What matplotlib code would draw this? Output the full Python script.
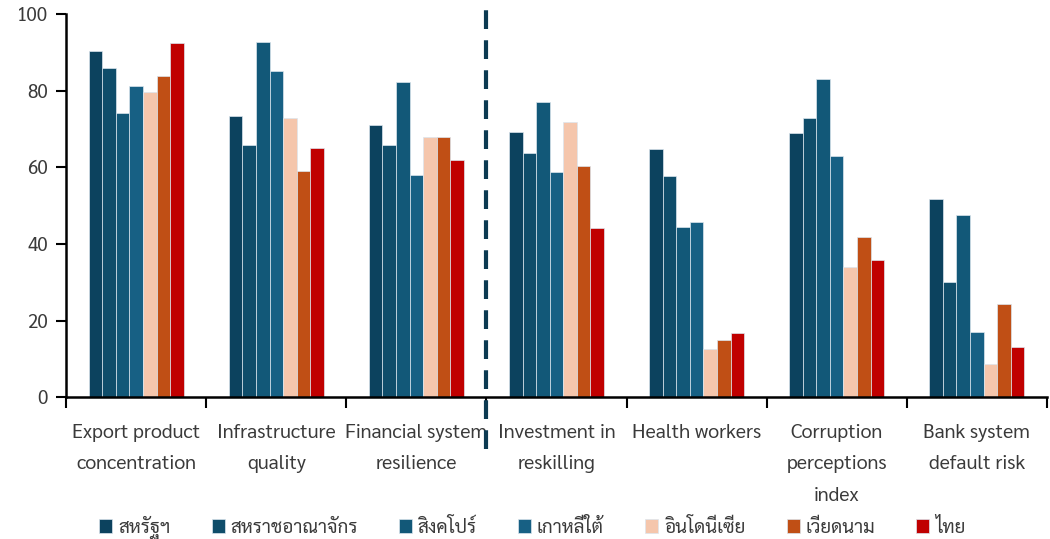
"""Grouped bar chart: competitiveness indicators, Thailand vs peers."""

import matplotlib
matplotlib.use("Agg")
import matplotlib.pyplot as plt
import matplotlib.ticker as mticker
import numpy as np

plt.rcParams["font.family"] = ["Sarabun", "DejaVu Sans"]

_TXT = "#3A3A3A"

categories = [
    "Export product\nconcentration",
    "Infrastructure\nquality",
    "Financial system\nresilience",
    "Investment in\nreskilling",
    "Health workers",
    "Corruption\nperceptions\nindex",
    "Bank system\ndefault risk",
]
countries = ["สหรัฐฯ", "สหราชอาณาจักร", "สิงคโปร์", "เกาหลีใต้", "อินโดนีเซีย", "เวียดนาม", "ไทย"]

usa = [90.3, 73.4, 71.0, 69.1, 64.8, 68.9, 51.7]
uk = [85.9, 65.8, 65.7, 63.7, 57.8, 72.9, 30.1]
singapore = [74.3, 92.6, 82.3, 77.0, 44.3, 83.0, 47.6]
korea = [81.3, 85.0, 57.9, 58.9, 45.7, 63.0, 17.0]
indonesia = [79.7, 72.9, 68.0, 71.7, 12.6, 33.9, 8.6]
vietnam = [83.7, 59.0, 67.8, 60.3, 15.0, 41.8, 24.3]
thailand = [92.4, 65.0, 61.8, 44.2, 16.8, 35.8, 13.0]

series = [usa, uk, singapore, korea, indonesia, vietnam, thailand]
colors = ["#0C425E", "#0F4D6A", "#125878", "#176084", "#F5C6AC", "#C04F15", "#C00000"]

fig = plt.figure(figsize=(10.5, 5.39), dpi=100)
ax = fig.add_axes([0.063, 0.263, 0.934, 0.711])

x = np.arange(len(categories))
w = 0.097
n = len(series)
for i, (vals, c, name) in enumerate(zip(series, colors, countries)):
    ax.bar(x + (i - (n - 1) / 2) * w, vals, w, color=c, label=name,
           edgecolor="#DCE6EE", linewidth=0.5)

# divider between the two indicator groups
ax.plot([2.5, 2.5], [-13.5, 103.8], color="#0C3A52", linewidth=3,
        linestyle=(0, (4.5, 2.7)), clip_on=False, zorder=5)

ax.set_xlim(-0.5, len(categories) - 0.5)
ax.set_ylim(0, 100)
ax.yaxis.set_major_locator(mticker.MultipleLocator(20))
ax.set_xticks(np.arange(-0.5, len(categories)), minor=False)
ax.set_xticklabels([])
ax.set_xticks(x, minor=True)
ax.set_xticklabels(categories, minor=True, fontsize=14.2, linespacing=1.97, va="top")
ax.tick_params(axis="x", which="minor", length=0, pad=19, labelcolor=_TXT)
ax.tick_params(axis="x", which="major", length=8, width=1.5, direction="out")
ax.tick_params(axis="y", length=7, width=1.5, direction="out", labelsize=13.5,
               pad=6, labelcolor=_TXT)
ax.spines[["top", "right"]].set_visible(False)
for s in ("left", "bottom"):
    ax.spines[s].set_linewidth(1.8)

leg = ax.legend(loc="center", bbox_to_anchor=(0.507, 0.022), bbox_transform=fig.transFigure,
                ncol=7, frameon=False, fontsize=13.5, handlelength=0.7, handleheight=0.7,
                handletextpad=0.3, columnspacing=2.2)
for t in leg.get_texts():
    t.set_color(_TXT)

fig.savefig("out.png", dpi=100)
plt.close(fig)
